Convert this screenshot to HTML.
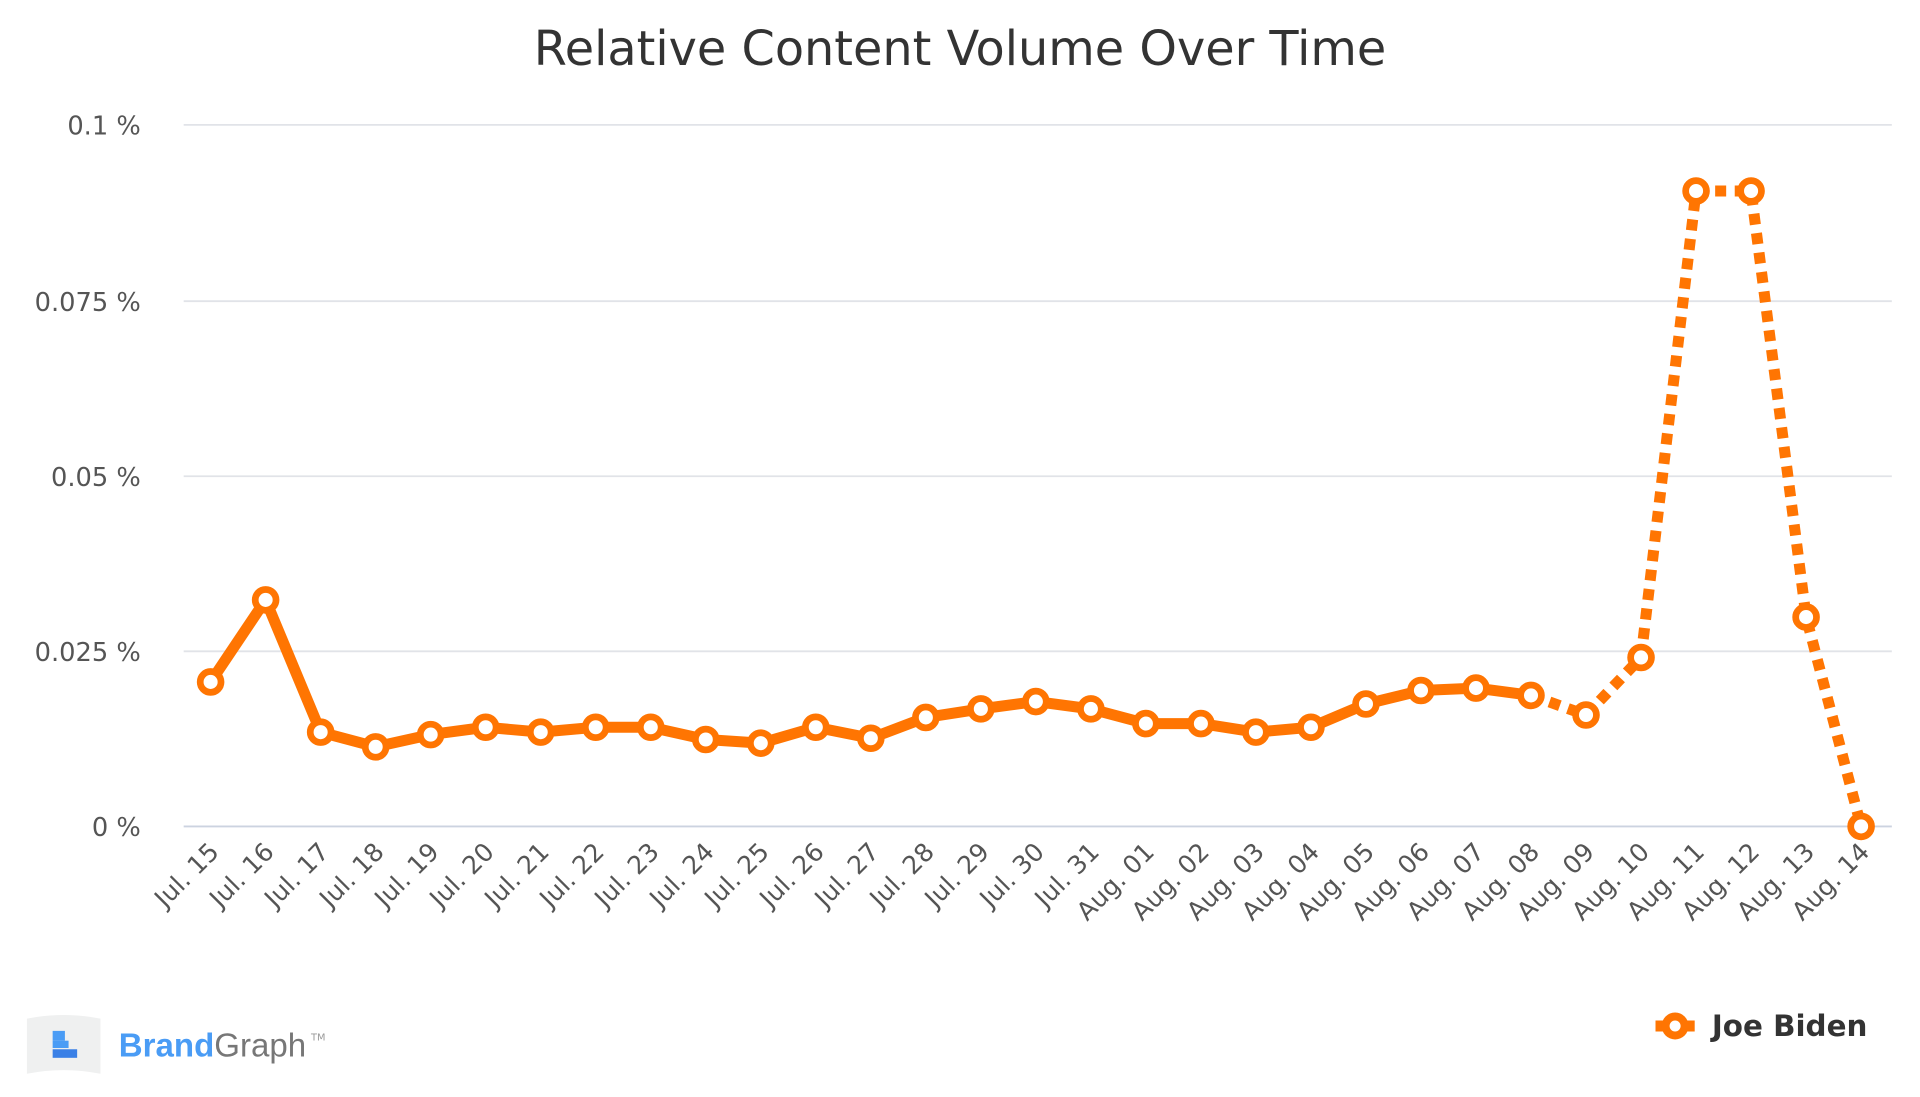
<!DOCTYPE html>
<html><head><meta charset="utf-8"><style>
html,body{margin:0;padding:0;background:#fff;}
svg{display:block;font-family:"DejaVu Sans","Liberation Sans",sans-serif;}
</style></head><body>
<svg width="1920" height="1097" viewBox="0 0 1568 896" preserveAspectRatio="none">
<text x="784" y="53" text-anchor="middle" font-size="39" fill="#333">Relative Content Volume Over Time</text>
<g stroke="#e1e3e8" stroke-width="1.5">
<line x1="150" y1="102" x2="1545" y2="102"/><line x1="150" y1="246" x2="1545" y2="246"/>
<line x1="150" y1="389" x2="1545" y2="389"/><line x1="150" y1="532" x2="1545" y2="532"/>
<line x1="150" y1="675" x2="1545" y2="675" stroke="#ccd3e0"/>
</g>
<g font-size="21" fill="#555" text-anchor="end">
<text x="115" y="110">0.1 %</text><text x="115" y="254">0.075 %</text><text x="115" y="397">0.05 %</text><text x="115" y="540">0.025 %</text><text x="115" y="683">0 %</text>
</g>
<g id="xl" font-size="20.5" fill="#555" text-anchor="end"></g>
<polyline id="solid" fill="none" stroke="#ff7502" stroke-width="9" stroke-linejoin="round"/>
<polyline id="dot" fill="none" stroke="#ff7502" stroke-width="9" stroke-dasharray="9 7"/>
<g id="pts"></g>
<path d="M22 832 Q52 826 82 832 L82 877 Q52 871 22 877 Z" fill="#eff0f0"/>
<rect x="43" y="842" width="10" height="8" fill="#4a9cf5"/><rect x="43" y="850" width="13" height="6" fill="#4a9cf5"/><rect x="43" y="857" width="20" height="7" fill="#3a80e6"/>
<text x="97" y="863" font-size="27" font-weight="bold" fill="#4a9cf5" font-family="Liberation Sans,sans-serif">Brand<tspan font-weight="normal" fill="#777">Graph</tspan></text>
<text x="254" y="850" font-size="8" fill="#999">TM</text>
<line x1="1352" y1="838" x2="1384" y2="838" stroke="#ff7502" stroke-width="9"/>
<circle cx="1368" cy="838" r="11" fill="#ff7502"/><circle cx="1368" cy="838" r="4.5" fill="#fff"/>
<text x="1398" y="846" font-size="24" font-weight="bold" fill="#333">Joe Biden</text>
</svg>
<script>
var ys=[557,490,598,610,600,594,598,594,594,604,607,594,603,586,579,573,579,591,591,598,594,575,564,562,568,584,537,156,156,504,675];
var lab=[];for(var i=15;i<=31;i++)lab.push("Jul. "+i);for(var i=1;i<=14;i++)lab.push("Aug. "+(i<10?"0"+i:i));
var ns="http://www.w3.org/2000/svg",s=[],d=[],g=document.getElementById("pts"),xl=document.getElementById("xl");
for(var i=0;i<31;i++){var x=172+i*44.93,p=x.toFixed(1)+","+ys[i];if(i<=24)s.push(p);if(i>=24)d.push(p);
var c=document.createElementNS(ns,"circle");c.setAttribute("cx",x);c.setAttribute("cy",ys[i]);c.setAttribute("r",8.5);c.setAttribute("fill","#fff");c.setAttribute("stroke","#ff7502");c.setAttribute("stroke-width",5.5);g.appendChild(c);
var t=document.createElementNS(ns,"text");t.setAttribute("transform","translate("+(x+8)+",697) rotate(-45)");t.textContent=lab[i];xl.appendChild(t);}
document.getElementById("solid").setAttribute("points",s.join(" "));document.getElementById("dot").setAttribute("points",d.join(" "));
</script>
</body></html>
